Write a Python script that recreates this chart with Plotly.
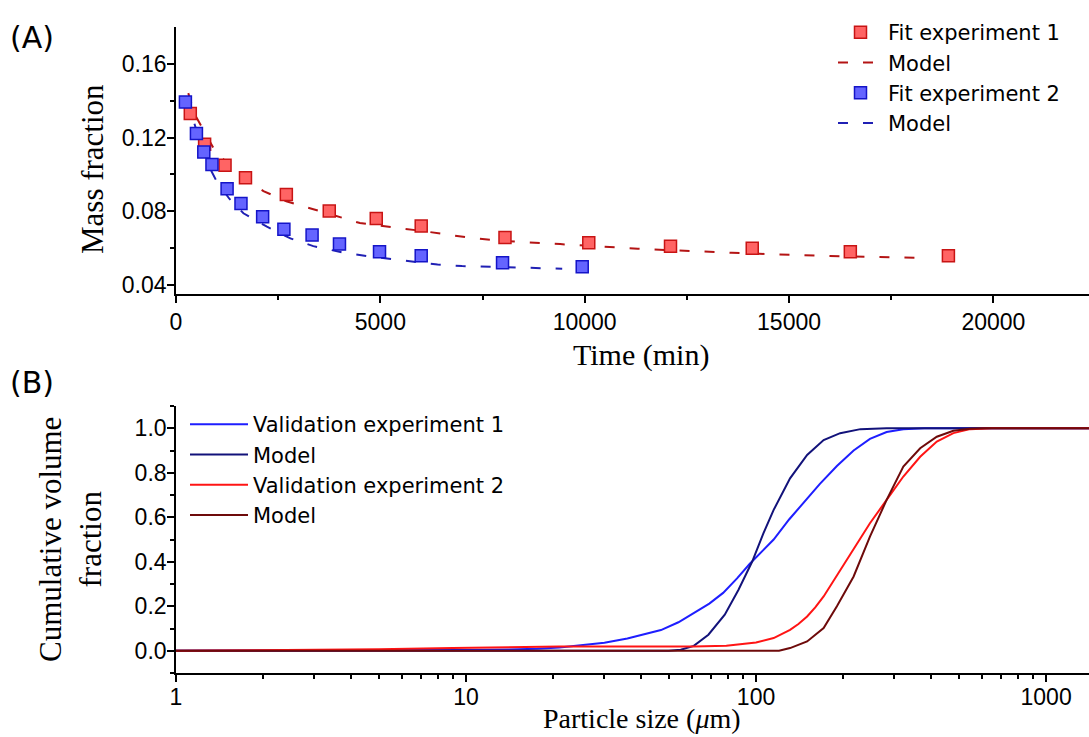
import plotly.graph_objects as go

# ---------------- Panel A: mass fraction vs time ----------------
t_fit1 = [350, 700, 1200, 1700, 2700, 3750, 4900, 6000, 8050, 10100, 12100, 14100, 16500, 18900]
m_fit1 = [0.133, 0.1164, 0.105, 0.0982, 0.0892, 0.0802, 0.0762, 0.0721, 0.0659, 0.0630, 0.0612, 0.0600, 0.0582, 0.0560]

t_model1 = [300, 470, 950, 1500, 2140, 2700, 3360, 4500, 5360, 6000, 7100, 8000, 9400, 11300, 13600, 16000, 18400]
m_model1 = [0.144, 0.132, 0.113, 0.1005, 0.091, 0.0855, 0.0812, 0.0737, 0.0712, 0.0695, 0.066, 0.064, 0.0623, 0.0598, 0.0576, 0.0558, 0.0548]

t_fit2 = [230, 500, 680, 880, 1250, 1590, 2120, 2640, 3330, 4000, 4980, 6000, 7990, 9940]
m_fit2 = [0.1392, 0.1222, 0.1122, 0.1054, 0.0922, 0.0843, 0.0771, 0.0703, 0.0672, 0.0623, 0.0582, 0.0560, 0.0522, 0.0501]

t_model2 = [230, 430, 700, 1000, 1300, 1650, 2225, 2800, 3360, 4090, 4670, 5300, 5700, 6400, 7000, 7600, 8200, 8800, 9450]
m_model2 = [0.140, 0.129, 0.109, 0.096, 0.087, 0.079, 0.0717, 0.0654, 0.0612, 0.0577, 0.0558, 0.0542, 0.0531, 0.0513, 0.0504, 0.0500, 0.0495, 0.0492, 0.0490]

# ---------------- Panel B: cumulative volume fraction ----------------
d_val1 = [1, 5, 10, 14, 17.6, 21, 26, 30, 36, 42, 47, 54, 61, 69, 77, 86, 95, 105, 115,
          130, 150, 166, 190, 217, 247, 282, 322, 380, 1000, 1500]
f_val1 = [0.0, 0.0, 0.003, 0.006, 0.009, 0.015, 0.026, 0.036, 0.055, 0.075, 0.093, 0.128, 0.168,
          0.212, 0.26, 0.325, 0.39, 0.45, 0.50, 0.59, 0.685, 0.75, 0.83, 0.90, 0.952, 0.983,
          0.996, 1.0, 1.0, 1.0]

d_mod1 = [1, 50, 55, 61, 68.5, 78, 87, 97, 106, 115, 131, 150, 171, 195, 229, 282, 1000, 1500]
f_mod1 = [0.0, 0.0, 0.005, 0.022, 0.072, 0.162, 0.274, 0.401, 0.528, 0.633, 0.775, 0.880, 0.947, 0.978, 0.996, 1.0, 1.0, 1.0]

d_val2 = [1, 3, 5, 9, 21, 61, 79, 100, 115, 131, 140, 150, 160, 171, 182, 195, 217, 247, 282,
          322, 368, 420, 479, 547, 650, 1000, 1500]
f_val2 = [0.0, 0.003, 0.007, 0.012, 0.019, 0.019, 0.022, 0.037, 0.057, 0.094, 0.12, 0.154, 0.195,
          0.244, 0.30, 0.364, 0.455, 0.573, 0.678, 0.783, 0.872, 0.94, 0.978, 0.996, 1.0, 1.0, 1.0]

d_mod2 = [1, 120, 131, 150, 171, 190, 217, 247, 282, 322, 368, 420, 479, 547, 620, 1000, 1500]
f_mod2 = [0.0, 0.0, 0.012, 0.042, 0.102, 0.20, 0.334, 0.513, 0.678, 0.828, 0.91, 0.962, 0.989, 0.998, 1.0, 1.0, 1.0]

# ---------------- figure geometry ----------------
W, H = 1089, 737
ML, MR, MT, MB = 176, 0, 27, 64
PW, PH = W - ML - MR, H - MT - MB


def px_x(px):
    return (px - ML) / PW


def px_y(py):
    return (H - MB - py) / PH


SANS = "Liberation Sans, Arial, sans-serif"
WIDE_SANS = "DejaVu Sans, Liberation Sans, sans-serif"
SERIF = "Liberation Serif, Times New Roman, serif"

RED_FILL, RED_EDGE, RED_LINE = "#ff6464", "#c81414", "#b41414"
BLUE_FILL, BLUE_EDGE, BLUE_LINE = "#6464ff", "#1414c8", "#2020b4"

fig = go.Figure()

# model curves first so the squares sit on top of them
fig.add_trace(go.Scatter(
    x=t_model1, y=m_model1, mode="lines", name="Model",
    line=dict(color=RED_LINE, width=2, dash="10px,15px"),
    xaxis="x", yaxis="y", legend="legend", legendrank=2))
fig.add_trace(go.Scatter(
    x=t_model2, y=m_model2, mode="lines", name="Model",
    line=dict(color=BLUE_LINE, width=2, dash="10px,15px"),
    xaxis="x", yaxis="y", legend="legend", legendrank=4))
fig.add_trace(go.Scatter(
    x=t_fit1, y=m_fit1, mode="markers", name="Fit experiment 1",
    marker=dict(symbol="square", size=12, color=RED_FILL, line=dict(color=RED_EDGE, width=1.5)),
    xaxis="x", yaxis="y", legend="legend", legendrank=1))
fig.add_trace(go.Scatter(
    x=t_fit2, y=m_fit2, mode="markers", name="Fit experiment 2",
    marker=dict(symbol="square", size=12, color=BLUE_FILL, line=dict(color=BLUE_EDGE, width=1.5)),
    xaxis="x", yaxis="y", legend="legend", legendrank=3))

# panel B curves
fig.add_trace(go.Scatter(
    x=d_val1, y=f_val1, mode="lines", name="Validation experiment 1",
    line=dict(color="#1e1eff", width=2), xaxis="x2", yaxis="y2", legend="legend2"))
fig.add_trace(go.Scatter(
    x=d_mod1, y=f_mod1, mode="lines", name="Model",
    line=dict(color="#12127a", width=2), xaxis="x2", yaxis="y2", legend="legend2"))
fig.add_trace(go.Scatter(
    x=d_val2, y=f_val2, mode="lines", name="Validation experiment 2",
    line=dict(color="#ff1414", width=2), xaxis="x2", yaxis="y2", legend="legend2"))
fig.add_trace(go.Scatter(
    x=d_mod2, y=f_mod2, mode="lines", name="Model",
    line=dict(color="#6e0a0a", width=2), xaxis="x2", yaxis="y2", legend="legend2"))

axis_common = dict(
    showline=True, linecolor="black", linewidth=1.6, mirror=False,
    ticks="outside", ticklen=7, tickwidth=1.5, tickcolor="black",
    showgrid=False, zeroline=False,
    tickfont=dict(family=SANS, size=23, color="black"),
)
minor_common = dict(ticks="outside", ticklen=4, tickwidth=1.5, tickcolor="black", showgrid=False)

domA = [px_y(294), 1.0]
domB = [0.0, px_y(406)]

legend_font = dict(family=WIDE_SANS, size=21, color="black")

fig.update_layout(
    width=W, height=H,
    margin=dict(l=ML, r=MR, t=MT, b=MB, pad=0),
    paper_bgcolor="white", plot_bgcolor="white",
    xaxis=dict(axis_common, domain=[0, 1], anchor="y", range=[0, 22340],
               tickmode="linear", tick0=0, dtick=5000, tickformat="d",
               minor=dict(minor_common, dtick=2500)),
    yaxis=dict(axis_common, domain=domA, anchor="x", range=[0.0353, 0.1798],
               tickmode="linear", tick0=0.04, dtick=0.04, tickformat=".2f",
               ticklabelstandoff=-4,
               minor=dict(minor_common, dtick=0.02, tick0=0.04)),
    xaxis2=dict(axis_common, domain=[0, 1], anchor="y2", type="log", range=[0, 3.148],
                tickvals=[1, 10, 100, 1000], ticktext=["1", "10", "100", "1000"],
                ticklabelstandoff=-4,
                minor=dict(minor_common,
                           tickvals=[k * 10 ** e for e in range(0, 4) for k in range(2, 10)])),
    yaxis2=dict(axis_common, domain=domB, anchor="x2", range=[-0.1, 1.1],
                tickmode="linear", tick0=0, dtick=0.2, tickformat=".1f",
                ticklabelstandoff=-4,
                minor=dict(minor_common, dtick=0.1, tick0=0)),
    legend=dict(x=px_x(833), y=px_y(12), xanchor="left", yanchor="top",
                bgcolor="rgba(0,0,0,0)", itemwidth=45, traceorder="normal",
                font=legend_font),
    legend2=dict(x=px_x(185), y=px_y(404), xanchor="left", yanchor="top",
                 bgcolor="rgba(0,0,0,0)", itemwidth=58, traceorder="normal",
                 font=legend_font),
    showlegend=True,
)

annotations = [
    dict(text="(A)", x=px_x(32), y=px_y(38), font=dict(family=WIDE_SANS, size=30)),
    dict(text="(B)", x=px_x(32), y=px_y(383), font=dict(family=WIDE_SANS, size=30)),
    dict(text="Mass fraction", x=px_x(92), y=px_y(169), textangle=-90,
         font=dict(family=SERIF, size=31)),
    dict(text="Time (min)", x=px_x(641), y=px_y(355), font=dict(family=SERIF, size=30)),
    dict(text="Cumulative volume<br>fraction", x=px_x(70), y=px_y(540), textangle=-90,
         font=dict(family=SERIF, size=31)),
    dict(text="Particle size (<i>\u03bc</i>m)", x=px_x(642), y=px_y(718),
         font=dict(family=SERIF, size=28)),
]
for a in annotations:
    a.update(xref="paper", yref="paper", showarrow=False, xanchor="center", yanchor="middle")
    a["font"].setdefault("color", "black")
fig.update_layout(annotations=annotations)

fig.write_html("out.html")
